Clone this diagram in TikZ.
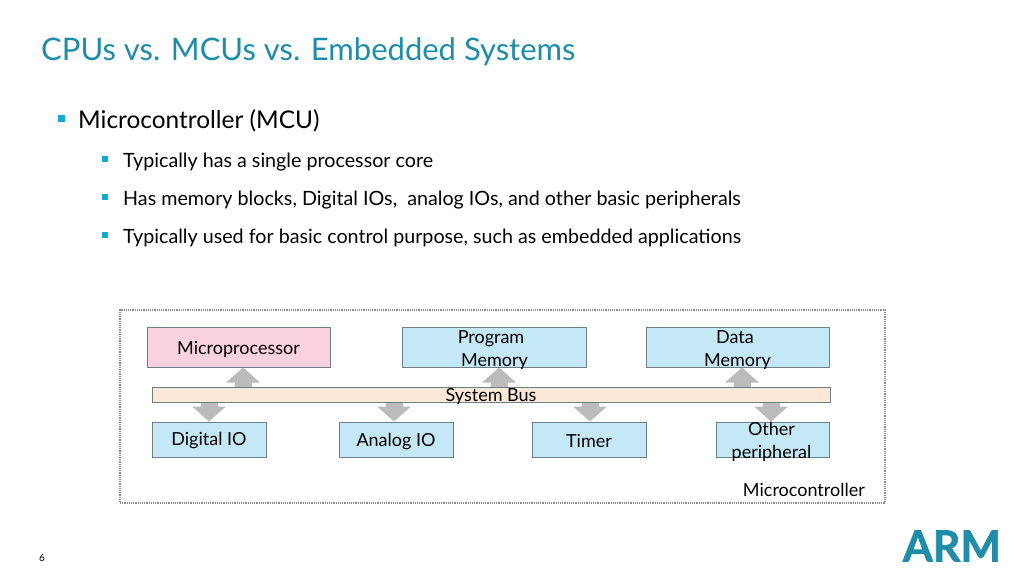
\documentclass[tikz,border=0pt]{standalone}
\usepackage{fontspec}
\setmainfont{Lato}
\newfontfamily\headfont[WordSpace=0.5]{Lato}
\newfontfamily\logofont[BoldFeatures={FakeBold=1.5}]{Lato}
\usepackage{xcolor}
\usetikzlibrary{arrows.meta,backgrounds,positioning}
\definecolor{armteal}{HTML}{1F8CA9}
\definecolor{bulletblue}{HTML}{12A9D2}
\definecolor{boxblue}{HTML}{C4E8F6}
\definecolor{boxpink}{HTML}{F9D1DF}
\definecolor{boxbus}{HTML}{FCE8D6}
\definecolor{boxline}{HTML}{6F7F86}
\definecolor{arrowgray}{HTML}{BBBBBB}

\begin{document}
\begin{tikzpicture}[x=1pt,y=-1pt]
	\tikzstyle{heading}=[anchor=west, inner sep=0pt, text=armteal, font=\headfont\fontsize{31}{33}\selectfont]
	\tikzstyle{itemone}=[anchor=west, inner sep=0pt, text=black, font=\fontsize{24.4}{26}\selectfont]
	\tikzstyle{itemtwo}=[anchor=west, inner sep=0pt, text=black, font=\fontsize{19.7}{22}\selectfont]
	\tikzstyle{bul}=[fill=bulletblue, inner sep=0pt]
	\tikzstyle{block}=[draw=boxline, line width=1pt, inner sep=0pt]
	\tikzstyle{blocktext}=[inner sep=0pt, align=center, text=black, font=\fontsize{18}{23}\selectfont]
	\tikzstyle{busarrow}=[draw=arrowgray, line width=17pt, -{Triangle[length=15pt,width=33pt]}]
	\useasboundingbox (0,0) rectangle (1024,576);

	\node[heading] (title) at (41,52) {CPUs vs. MCUs vs. Embedded Systems};

	\node[bul, minimum size=7pt] (b1) at (61,118) {};
	\node[itemone] (mcu) at (78,121) {Microcontroller (MCU)};
	\node[bul, minimum size=6pt] (b2) at (105,159) {};
	\node[itemtwo] (core) at (123,162) {Typically has a single processor core};
	\node[bul, minimum size=6pt] (b3) at (105,197) {};
	\node[itemtwo] (mem) at (123,200) {Has memory blocks, Digital IOs,\ \ analog IOs, and other basic peripherals};
	\node[bul, minimum size=6pt] (b4) at (105,235) {};
	\node[itemtwo] (use) at (123,238) {Typically used for basic control purpose, such as embedded applications};

	\node[draw=black!45, line width=1.2pt, densely dotted, minimum width=765pt, minimum height=193pt] (frame) at (502.5,406.5) {};

	\node[block, fill=boxpink, minimum width=183pt, minimum height=40pt] (cpu) at (238.5,347) {};
	\node[block, fill=boxblue, minimum width=184pt, minimum height=40pt] (prog) at (494,347) {};
	\node[block, fill=boxblue, minimum width=183pt, minimum height=40pt] (data) at (737.5,347) {};
	\node[block, fill=boxbus, minimum width=678pt, minimum height=15pt] (bus) at (491,394.5) {};
	\node[block, fill=boxblue, minimum width=114pt, minimum height=35pt] (dio) at (209,439.5) {};
	\node[block, fill=boxblue, minimum width=114pt, minimum height=35pt] (aio) at (396,439.5) {};
	\node[block, fill=boxblue, minimum width=114pt, minimum height=35pt] (timer) at (589,439.5) {};
	\node[block, fill=boxblue, minimum width=113pt, minimum height=35pt] (other) at (772.5,439.5) {};

	\coordinate (acpu) at (243,380);
	\coordinate (aprog) at (499,380);
	\coordinate (adata) at (742,380);
	\coordinate (adio) at (209,410);
	\coordinate (aaio) at (394,410);
	\coordinate (atimer) at (590,410);
	\coordinate (aother) at (771,410);

	\begin{scope}[on background layer]
		\draw[busarrow] (bus.north -| acpu) -- (cpu.south -| acpu);
		\draw[busarrow] (bus.north -| aprog) -- (prog.south -| aprog);
		\draw[busarrow] (bus.north -| adata) -- (data.south -| adata);
		\draw[busarrow] (bus.south -| adio) -- (dio.north -| adio);
		\draw[busarrow] (bus.south -| aaio) -- (aio.north -| aaio);
		\draw[busarrow] (bus.south -| atimer) -- (timer.north -| atimer);
		\draw[busarrow] (bus.south -| aother) -- (other.north -| aother);
	\end{scope}

	% box labels run over the box edges
	\node[blocktext] (cputext) at (238.5,349) {Microprocessor};
	\node[blocktext] (progtext) at (494.5,350) {Program\hspace*{7pt}\\Memory};
	\node[blocktext] (datatext) at (737.5,350) {Data\hspace*{5pt}\\Memory};
	\node[blocktext] (bustext) at (491,397) {System Bus};
	\node[blocktext] (diotext) at (209,441) {Digital IO};
	\node[blocktext] (aiotext) at (396,442) {Analog IO};
	\node[blocktext] (timertext) at (589,441) {Timer};
	\node[blocktext] (othertext) at (771.5,442) {Other\\peripheral};
	\node[blocktext, anchor=east] (mculabel) at (865,490) {Microcontroller};

	\node[anchor=center, inner sep=0pt, font=\fontsize{10}{12}\selectfont] (page) at (42,558) {6};
	\node[anchor=center, inner sep=0pt, text=armteal, font=\logofont\fontsize{43}{45}\selectfont\bfseries] (logo) at (952,546) {ARM};
\end{tikzpicture}
\end{document}
